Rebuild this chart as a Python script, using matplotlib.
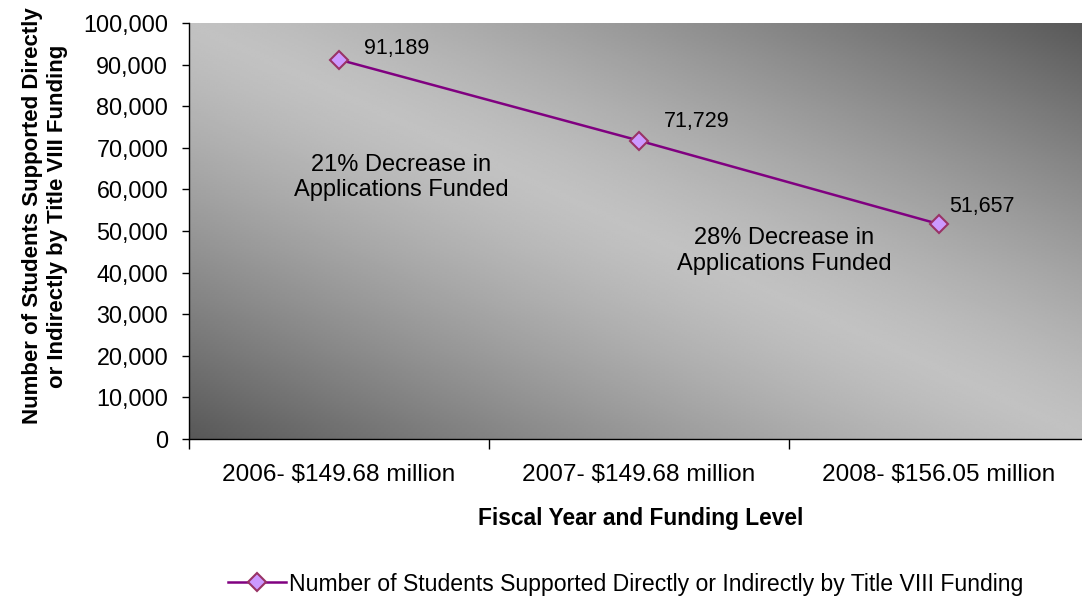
import numpy as np
import matplotlib
matplotlib.use("Agg")
import matplotlib.pyplot as plt
from matplotlib.ticker import FuncFormatter, FixedLocator

plt.rcParams['font.family'] = ['Liberation Sans', 'DejaVu Sans']

years = ['2006- $149.68 million', '2007- $149.68 million', '2008- $156.05 million']
students = [91189, 71729, 51657]
series_name = 'Number of Students Supported Directly or Indirectly by Title VIII Funding'
notes = ['21% Decrease in\nApplications Funded', '28% Decrease in\nApplications Funded']

W, H = 1082, 599
dpi = 100
fig = plt.figure(figsize=(W / dpi, H / dpi), dpi=dpi)
fig.patch.set_facecolor('white')

# plot area runs a few px past the right edge of the figure
ax = fig.add_axes([189 / W, 160 / H, 900 / W, 416 / H])

# diagonal gradient: light along top-left -> bottom-right, dark in the other corners
u = np.linspace(0, 1, 400)
w = np.linspace(0, 1, 200)
U, Wg = np.meshgrid(u, w)
shade = 1 - np.abs(U - Wg) ** 1.3
ax.imshow(shade, cmap='gray', vmin=-0.83, vmax=1.58, extent=[0, 1, 0, 1],
          transform=ax.transAxes, aspect='auto', zorder=0, interpolation='bilinear')

x = np.arange(1, len(students) + 1)
ax.plot(x, students, color='#800080', lw=1.8, marker='D', markersize=9,
        markerfacecolor='#CC99FF', markeredgecolor='#993366', markeredgewidth=1.5,
        zorder=3, label=series_name)

label_offsets = [(18, 8), (18, 14), (7, 13)]
for xi, v, off in zip(x, students, label_offsets):
    ax.annotate(f'{v:,}', (xi, v), xytext=off, textcoords='offset points',
                fontsize=15.5, ha='left', va='center', color='black')

ax.text(1.207, 62900, notes[0], ha='center', va='center', fontsize=17, linespacing=1.2)
ax.text(2.483, 45200, notes[1], ha='center', va='center', fontsize=17, linespacing=1.2)

ax.set_xlim(0.5, 3.5)
ax.set_ylim(0, 100000)
ax.set_yticks(np.arange(0, 100001, 10000))
ax.yaxis.set_major_formatter(FuncFormatter(lambda v, p: f'{v:,.0f}'))
ax.tick_params(axis='y', length=5, width=1, pad=10, labelsize=16.8, colors='black')

ax.set_xticks(x)
ax.set_xticklabels(years)
ax.xaxis.set_minor_locator(FixedLocator([0.5, 1.5, 2.5, 3.5]))
ax.tick_params(axis='x', which='major', length=0, pad=18, labelsize=17.6)
ax.tick_params(axis='x', which='minor', length=7, width=1)

for s in ['top', 'right']:
    ax.spines[s].set_visible(False)
for s in ['left', 'bottom']:
    ax.spines[s].set_color('black')
    ax.spines[s].set_linewidth(1)

fig.text(45 / W, 1 - 216 / H,
         'Number of Students Supported Directly\nor Indirectly by Title VIII Funding',
         rotation=90, ha='center', va='center', fontsize=16, fontweight='bold',
         multialignment='center', linespacing=1.2)
fig.text(641 / W, 1 - 519 / H, 'Fiscal Year and Funding Level',
         ha='center', va='center', fontsize=16.4, fontweight='bold')

fig.legend(loc='center left', bbox_to_anchor=(228 / W, 1 - 584 / H), frameon=False,
           fontsize=16.6, handlelength=2.5, handletextpad=0.15, borderaxespad=0, borderpad=0)

fig.savefig('out.png', dpi=dpi)
